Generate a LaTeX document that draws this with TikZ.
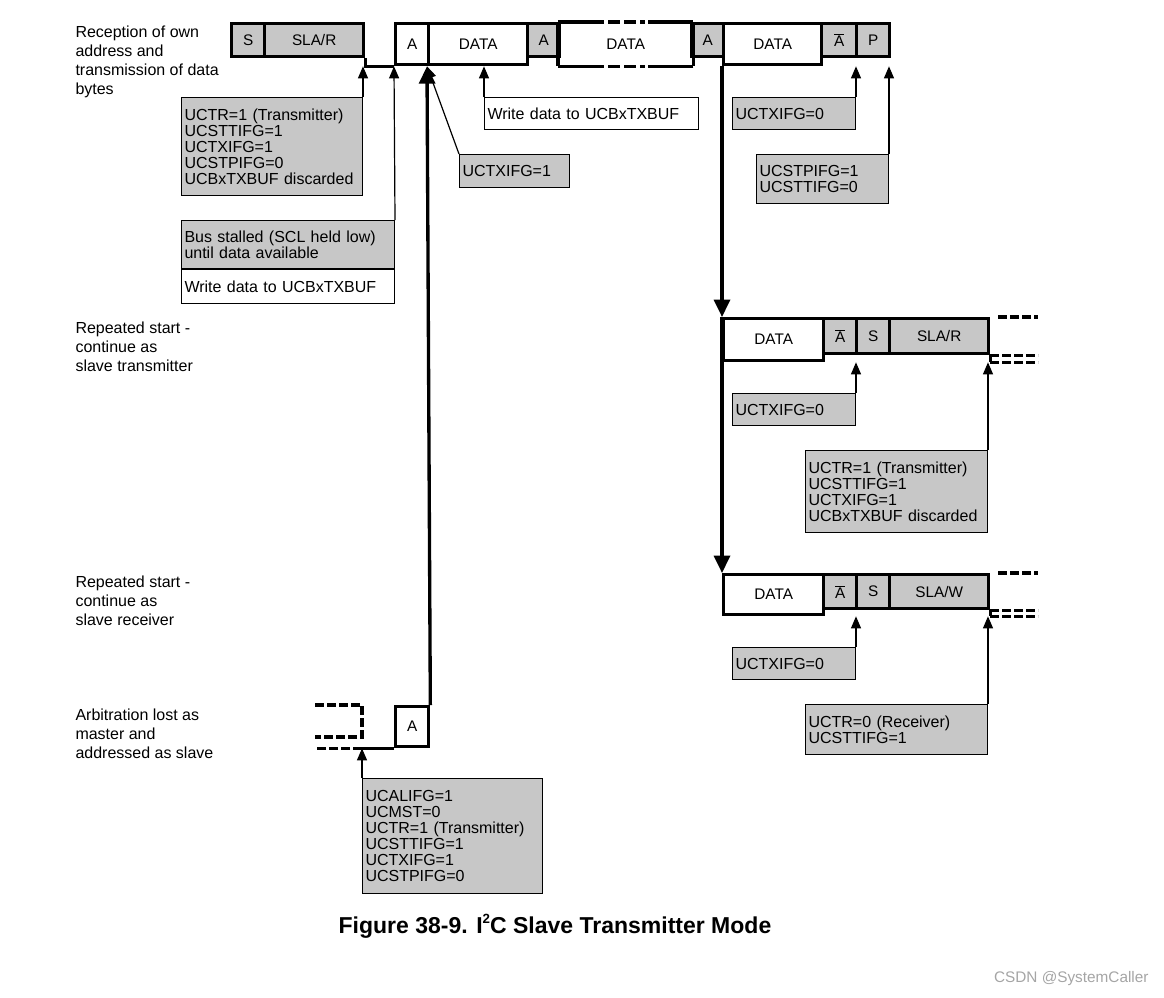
\documentclass[tikz,border=0pt]{standalone}
\usepackage{fontspec}
\setmainfont{Liberation Sans}
\usetikzlibrary{arrows.meta}

\definecolor{boxgray}{RGB}{199,199,199}
\definecolor{markgray}{RGB}{165,165,165}
\newcommand\bitfont{\fontsize{11.5pt}{13pt}\selectfont}
\newcommand\notefont{\fontsize{12pt}{12pt}\selectfont}
\newcommand\sidefont{\fontsize{12pt}{14.25pt}\selectfont}
\newcommand\nack{$\overline{\mbox{A}}$}
\newcommand\sqr{\raisebox{0.42em}{\fontsize{10pt}{10pt}\selectfont 2}}

\tikzset{every picture/.style={line width=0.75pt}}
\tikzset{
  bitbox/.style={draw, line width=2.5pt, anchor=north west, inner sep=0pt, font=\bitfont},
  mbit/.style={bitbox, fill=boxgray, minimum height=24.75pt},
  sbit/.style={bitbox, minimum height=30.75pt},
  note/.style={draw, line width=0.75pt, fill=boxgray, anchor=north west, inner xsep=2.25pt, inner ysep=0pt, align=left, font=\notefont},
  noteline/.style={-{Triangle[length=9pt,width=7.5pt]}, line width=0.9pt},
  busline/.style={line width=2.5pt},
  busarrow/.style={-{Triangle[length=13pt,width=12pt]}, line width=2.5pt},
  busdash/.style={line width=2.5pt, dash pattern=on 6.5pt off 2.5pt},
}

\begin{document}
\begin{tikzpicture}[x=0.75pt,y=0.75pt,yscale=-1,xscale=1]
\useasboundingbox (0,0) rectangle (1164,997);

% Text Node
\node [anchor=north west][inner sep=0pt] (lblrx) at (75,25) [font=\sidefont][align=left] {Reception of own\\address and\\transmission of data\\bytes};
% Text Node
\node [anchor=north west][inner sep=0pt] (lblrst) at (75,321) [font=\sidefont][align=left] {Repeated start -\\continue as\\slave transmitter};
% Text Node
\node [anchor=north west][inner sep=0pt] (lblrsr) at (75,575) [font=\sidefont][align=left] {Repeated start -\\continue as\\slave receiver};
% Text Node
\node [anchor=north west][inner sep=0pt] (lblarb) at (75,708) [font=\sidefont][align=left] {Arbitration lost as\\master and\\addressed as slave};

%Shape: Rectangle (top frame)
\node [mbit, minimum width=24.75pt] (s1) at (230,22) {S};
\node [mbit, minimum width=74.25pt] (slar1) at (263,22) {SLA/R};
\node [sbit, minimum width=24.75pt] (a1) at (394,22) {A};
\node [sbit, minimum width=74.25pt] (data1) at (427,22) {DATA};
\node [sbit, draw=none, minimum width=99pt] (data2) at (558,22) {DATA};
\node [mbit, minimum width=24pt] (ack1) at (526,22) {A};
\node [mbit, minimum width=24pt] (ack2) at (690,22) {A};
\node [sbit, minimum width=73.5pt] (data3) at (722,22) {DATA};
\node [mbit, minimum width=26.25pt] (nack1) at (820,22) {\nack};
\node [mbit, minimum width=24.75pt] (p1) at (855,22) {P};

%Straight Lines
\draw [busline] (slar1.south east) -- (slar1.south east |- a1.south) -- (a1.south west);
%Straight Lines
\draw [busline] (data2.north west) -- (data2.south west) (data2.north east) -- (data2.south east);
\draw [busline] (data2.north west) -- ++(34,0) (data2.north east) -- ++(-45,0);
\draw [busline] (data2.south west) -- ++(34,0) (data2.south east) -- ++(-45,0);
\draw [busline, dash pattern=on 9pt off 3pt] (data2.north west) ++(34,0) -- ++(53,0);
\draw [busline, dash pattern=on 9pt off 3pt] (data2.south west) ++(34,0) -- ++(53,0);

%Shape: Rectangle (repeated start, transmitter)
\node [sbit, minimum width=75pt, minimum height=31.5pt] (data4) at (722,317) {DATA};
\node [mbit, minimum width=24.75pt, minimum height=26.25pt] (nack2) at (822,317) {\nack};
\node [mbit, minimum width=24.75pt, minimum height=26.25pt] (s2) at (855,317) {S};
\node [mbit, minimum width=74.25pt, minimum height=26.25pt] (slar2) at (888,317) {SLA/R};
%Straight Lines
\draw [busline] (slar2.south east) -- (slar2.south east |- data4.south);
\draw [busdash] (slar2.north east) ++(8,0) -- ++(40,0);
\draw [busdash] (slar2.south east) -- ++(48,0);
\draw [busdash] (slar2.south east |- data4.south) -- ++(48,0);

%Shape: Rectangle (repeated start, receiver)
\node [sbit, minimum width=75pt, minimum height=30pt] (data5) at (722,573) {DATA};
\node [mbit, minimum width=24.75pt, minimum height=25.5pt] (nack3) at (822,573) {\nack};
\node [mbit, minimum width=24.75pt, minimum height=25.5pt] (s3) at (855,573) {S};
\node [mbit, minimum width=74.25pt, minimum height=25.5pt] (slaw) at (888,573) {SLA/W};
%Straight Lines
\draw [busline] (slaw.south east) -- (slaw.south east |- data5.south);
\draw [busdash] (slaw.north east) ++(8,0) -- ++(40,0);
\draw [busdash] (slaw.south east) -- ++(48,0);
\draw [busdash] (slaw.south east |- data5.south) -- ++(48,0);

%Shape: Rectangle (arbitration lost)
\node [sbit, minimum width=24.75pt, minimum height=30pt] (a2) at (394,705) {A};
%Straight Lines
\draw [busline] (a2.south west) -- ++(-32,0);
\draw [busdash] (a2.north west) ++(-79,0) -- ++(47,0) -- ++(0,32) -- ++(-47,0);
\draw [busdash] (a2.south west) ++(-32,0) -- ++(-47,0);

%Shape: Rectangle (flags)
\node [note, text width=131.25pt, minimum height=73.5pt] (ctr1) at (181,97) {UCTR=1 (Transmitter)\\UCSTTIFG=1\\UCTXIFG=1\\UCSTPIFG=0\\UCBxTXBUF discarded};
\node [note, text width=155.25pt, minimum height=36pt] (stall) at (181,220) {Bus stalled (SCL held low)\\until data available};
\node [note, fill=white, text width=155.25pt, minimum height=25.5pt] (wr1) at (stall.south west) {Write data to UCBxTXBUF};
\node [note, fill=white, text width=156pt, minimum height=24pt] (wr2) at (484,97) {Write data to UCBxTXBUF};
\node [note, text width=78pt, minimum height=24.75pt] (txifg1) at (459,154) {UCTXIFG=1};
\node [note, text width=87.75pt, minimum height=24pt] (txifg0a) at (732,97) {UCTXIFG=0};
\node [note, text width=94.5pt, minimum height=36.75pt] (stp) at (756,154) {UCSTPIFG=1\\UCSTTIFG=0};
\node [note, text width=87.75pt, minimum height=24pt] (txifg0b) at (732,393) {UCTXIFG=0};
\node [note, text width=132pt, minimum height=61.5pt] (ctr2) at (805,450) {UCTR=1 (Transmitter)\\UCSTTIFG=1\\UCTXIFG=1\\UCBxTXBUF discarded};
\node [note, text width=87.75pt, minimum height=24pt] (txifg0c) at (732,647) {UCTXIFG=0};
\node [note, text width=132pt, minimum height=37.5pt] (ctr3) at (805,704) {UCTR=0 (Receiver)\\UCSTTIFG=1};
\node [note, text width=130.5pt, minimum height=86.25pt] (alifg) at (362,778) {UCALIFG=1\\UCMST=0\\UCTR=1 (Transmitter)\\UCSTTIFG=1\\UCTXIFG=1\\UCSTPIFG=0};

%Straight Lines (flag arrows)
\draw [noteline] (ctr1.north east) -- (ctr1.north east |- a1.south);
\draw [noteline] (stall.north east) -- (a1.south west);
\draw [noteline] (wr2.north west) -- (wr2.north west |- data1.south);
\draw [noteline] (txifg1.north west) -- (data1.south west);
\draw [noteline] (txifg0a.north east) -- (txifg0a.north east |- data3.south);
\draw [noteline] (stp.north east) -- (stp.north east |- data3.south);
\draw [noteline] (txifg0b.north east) -- (txifg0b.north east |- data4.south);
\draw [noteline] (ctr2.north east) -- (ctr2.north east |- data4.south);
\draw [noteline] (txifg0c.north east) -- (txifg0c.north east |- data5.south);
\draw [noteline] (ctr3.north east) -- (ctr3.north east |- data5.south);
\draw [noteline] (alifg.north west) -- (alifg.north west |- a2.south);

%Straight Lines (bus arrows)
\draw [busarrow] (a2.north east) -- (data1.south west);
\draw [busarrow] (data3.south west) -- (data4.north west);
\draw [busarrow] (data4.north west) -- (data5.north west);

% Text Node
\node [anchor=base][inner sep=0pt] (caption) at (555,933) [font=\bfseries\fontsize{17.25pt}{20pt}\selectfont] {Figure 38-9. I\sqr C Slave Transmitter Mode};
% Text Node
\node [anchor=base east][inner sep=0pt] (mark) at (1149,982) [font=\fontsize{11.5pt}{13pt}\selectfont, text=markgray] {CSDN @SystemCaller};
\end{tikzpicture}
\end{document}
